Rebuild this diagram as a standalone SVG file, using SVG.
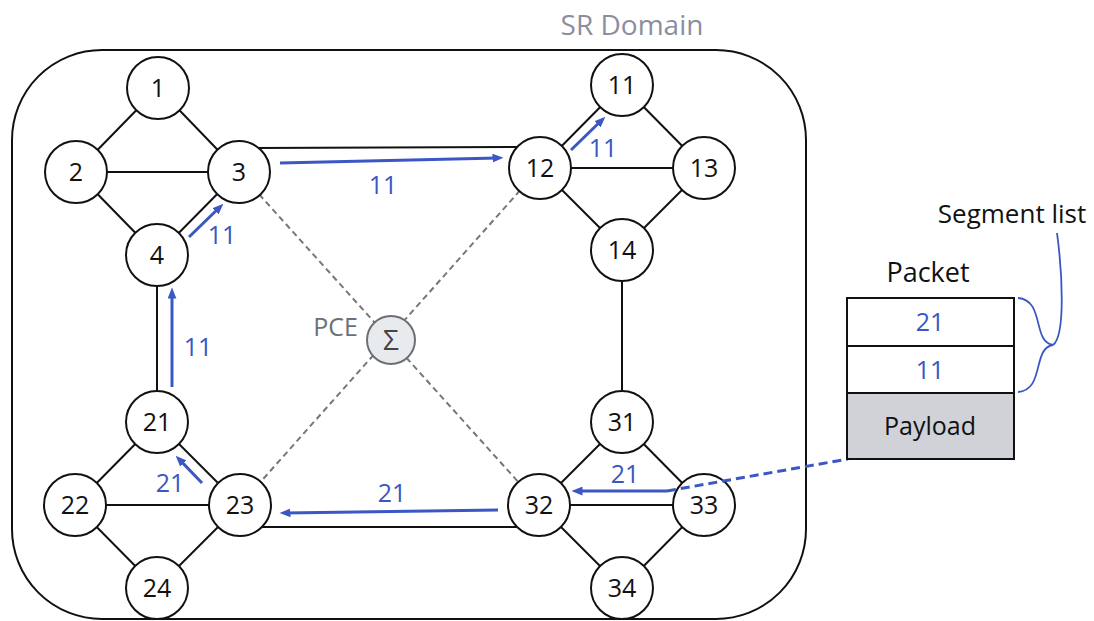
<svg xmlns="http://www.w3.org/2000/svg" width="1094" height="621" viewBox="0 0 1094 621">
<defs>
<marker id="ah" viewBox="0 0 10 8" markerWidth="11" markerHeight="9" refX="5" refY="4" orient="auto" markerUnits="userSpaceOnUse">
<path d="M0,0 L10,4 L0,8 z" fill="#3a57c4"/>
</marker>
</defs>
<style>
.node circle{fill:#fff;stroke:#111;stroke-width:2}
.node text{font-family:"Open Sans","DejaVu Sans",sans-serif;font-size:25px;fill:#111;text-anchor:middle}
.link{stroke:#111;stroke-width:2;fill:none}
.ctl{stroke:#777;stroke-width:2;stroke-dasharray:6 4;fill:none}
.arr{stroke:#3a57c4;stroke-width:3;fill:none;marker-end:url(#ah)}
.lbl{font-family:"Open Sans","DejaVu Sans",sans-serif;font-size:25px;fill:#3a57c4;text-anchor:middle}
.txt{font-family:"Open Sans","DejaVu Sans",sans-serif;text-anchor:middle}
</style>
<rect width="1094" height="621" fill="#fff"/>
<g id="domain">
<rect x="12" y="50" width="794" height="569" rx="90" ry="90" fill="none" stroke="#111" stroke-width="2"/>
<text class="txt" x="632" y="35" font-size="28" fill="#8b8e9c">SR Domain</text>
</g>
<g id="connectors">
<line class="ctl" x1="239" y1="172" x2="539" y2="505"/>
<line class="ctl" x1="540" y1="168" x2="240" y2="505"/>
<line class="link" x1="158" y1="88" x2="76" y2="172"/>
<line class="link" x1="158" y1="88" x2="239" y2="172"/>
<line class="link" x1="76" y1="172" x2="239" y2="172"/>
<line class="link" x1="76" y1="172" x2="157" y2="255"/>
<line class="link" x1="239" y1="172" x2="157" y2="255"/>
<line class="link" x1="157" y1="255" x2="157" y2="422"/>
<line class="link" x1="255" y1="148" x2="525" y2="147"/>
<line class="link" x1="540" y1="168" x2="622" y2="85"/>
<line class="link" x1="622" y1="85" x2="704" y2="168"/>
<line class="link" x1="540" y1="168" x2="704" y2="168"/>
<line class="link" x1="540" y1="168" x2="622" y2="250"/>
<line class="link" x1="704" y1="168" x2="622" y2="250"/>
<line class="link" x1="622" y1="250" x2="622" y2="422"/>
<line class="link" x1="157" y1="422" x2="75" y2="505"/>
<line class="link" x1="157" y1="422" x2="240" y2="505"/>
<line class="link" x1="75" y1="505" x2="240" y2="505"/>
<line class="link" x1="75" y1="505" x2="157" y2="588"/>
<line class="link" x1="240" y1="505" x2="157" y2="588"/>
<line class="link" x1="258" y1="527" x2="522" y2="527"/>
<line class="link" x1="622" y1="422" x2="539" y2="505"/>
<line class="link" x1="622" y1="422" x2="704" y2="505"/>
<line class="link" x1="539" y1="505" x2="704" y2="505"/>
<line class="link" x1="539" y1="505" x2="622" y2="588"/>
<line class="link" x1="704" y1="505" x2="622" y2="588"/>
</g>
<g id="pce">
<circle cx="391" cy="340" r="24" fill="#e8ebee" stroke="#6d6f75" stroke-width="2"/>
<text class="txt" x="391" y="350" font-size="28" fill="#444">Σ</text>
<text class="txt" x="358" y="336" font-size="25" fill="#6d707a" style="text-anchor:end">PCE</text>
</g>
<g id="node-1" class="node"><circle cx="158" cy="88" r="31"/><text x="158" y="97">1</text></g>
<g id="node-2" class="node"><circle cx="76" cy="172" r="31"/><text x="76" y="181">2</text></g>
<g id="node-3" class="node"><circle cx="239" cy="172" r="31"/><text x="239" y="181">3</text></g>
<g id="node-4" class="node"><circle cx="157" cy="255" r="31"/><text x="157" y="264">4</text></g>
<g id="node-11" class="node"><circle cx="622" cy="85" r="31"/><text x="622" y="94">11</text></g>
<g id="node-12" class="node"><circle cx="540" cy="168" r="31"/><text x="540" y="177">12</text></g>
<g id="node-13" class="node"><circle cx="704" cy="168" r="31"/><text x="704" y="177">13</text></g>
<g id="node-14" class="node"><circle cx="622" cy="250" r="31"/><text x="622" y="259">14</text></g>
<g id="node-21" class="node"><circle cx="157" cy="422" r="31"/><text x="157" y="431">21</text></g>
<g id="node-22" class="node"><circle cx="75" cy="505" r="31"/><text x="75" y="514">22</text></g>
<g id="node-23" class="node"><circle cx="240" cy="505" r="31"/><text x="240" y="514">23</text></g>
<g id="node-24" class="node"><circle cx="157" cy="588" r="31"/><text x="157" y="597">24</text></g>
<g id="node-31" class="node"><circle cx="622" cy="422" r="31"/><text x="622" y="431">31</text></g>
<g id="node-32" class="node"><circle cx="539" cy="505" r="31"/><text x="539" y="514">32</text></g>
<g id="node-33" class="node"><circle cx="704" cy="505" r="31"/><text x="704" y="514">33</text></g>
<g id="node-34" class="node"><circle cx="622" cy="588" r="31"/><text x="622" y="597">34</text></g>
<g id="paths">
<line class="arr" x1="189" y1="237" x2="219.4" y2="207.5"/>
<line class="arr" x1="172" y1="387" x2="172" y2="293"/>
<line class="arr" x1="280" y1="163" x2="498" y2="158"/>
<line class="arr" x1="571" y1="150" x2="601.4" y2="120.5"/>
<line class="arr" x1="202" y1="483" x2="179.5" y2="459.6"/>
<line class="arr" x1="498" y1="510" x2="285" y2="513"/>
<line class="arr" x1="667" y1="491" x2="577" y2="491"/>
<line x1="667" y1="491" x2="848" y2="459" stroke="#3a57c4" stroke-width="3" stroke-dasharray="9 5"/>
<text class="lbl" x="222" y="244">11</text>
<text class="lbl" x="198" y="356">11</text>
<text class="lbl" x="383" y="194">11</text>
<text class="lbl" x="603" y="157">11</text>
<text class="lbl" x="170" y="492">21</text>
<text class="lbl" x="392" y="502">21</text>
<text class="lbl" x="625" y="483">21</text>
</g>
<g id="packet">
<text class="txt" x="928" y="282" font-size="27" fill="#111">Packet</text>
<rect x="847" y="298" width="167" height="48" fill="#fff" stroke="#111" stroke-width="2"/>
<rect x="847" y="346" width="167" height="47" fill="#fff" stroke="#111" stroke-width="2"/>
<rect x="847" y="393" width="167" height="66" fill="#d0d2d8" stroke="#111" stroke-width="2"/>
<text class="lbl" x="930" y="331">21</text>
<text class="lbl" x="930" y="379">11</text>
<text class="txt" x="930" y="435" font-size="25" fill="#111">Payload</text>
</g>
<g id="segment-list">
<text class="txt" x="1012" y="223" font-size="26" fill="#111">Segment list</text>
<path d="M1018,298 C1045,300 1032,342 1053,345 C1032,348 1045,390 1018,392" fill="none" stroke="#3a57c4" stroke-width="1.8"/>
<path d="M1053,345 C1066,335 1062,270 1057,233" fill="none" stroke="#3a57c4" stroke-width="1.8"/>
</g>
</svg>
